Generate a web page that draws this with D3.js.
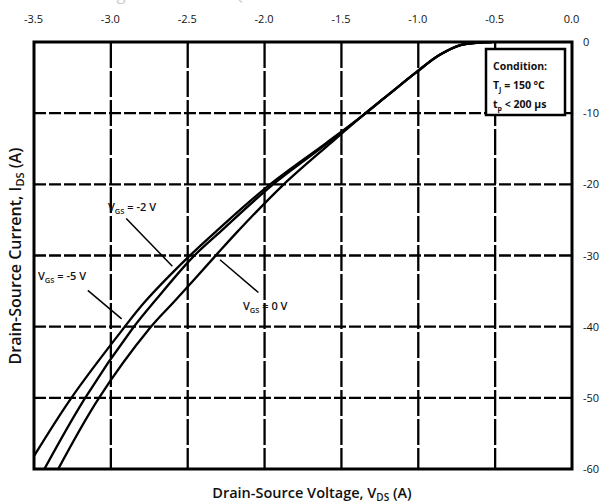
<!DOCTYPE html>
<html>
<head>
<meta charset="utf-8">
<script src="https://cdn.jsdelivr.net/npm/d3@7"></script>
<style>
  body { margin: 0; background: #fff; }
  svg { display: block; }
  text { font-family: "Open Sans", sans-serif; fill: #111; }
</style>
</head>
<body>
<div id="chart"></div>
<script>
// values
var xTicks = [-3.5, -3.0, -2.5, -2.0, -1.5, -1.0, -0.5, 0.0]
var yTicks = [0, -10, -20, -30, -40, -50, -60]

// drain current (A) shared by the three curves
var currents = [0, -0.4, -1.8, -4.2, -7.5, -10.3, -14.2, -20.1, -26.5, -30.3, -36.3, -40.3, -50.1, -60.3]
// drain-source voltage (V) for each gate voltage
var vdsVgs0  = [-0.52, -0.72, -0.86, -1.01, -1.20, -1.36, -1.57, -1.88, -2.17, -2.33, -2.58, -2.75, -3.08, -3.35]
var vdsVgsM2 = [-0.52, -0.72, -0.86, -1.01, -1.20, -1.36, -1.59, -1.95, -2.28, -2.47, -2.71, -2.86, -3.17, -3.44]
var vdsVgsM5 = [-0.52, -0.72, -0.86, -1.01, -1.20, -1.36, -1.60, -1.97, -2.31, -2.50, -2.77, -2.92, -3.26, -3.56]

var seriesNames = ['0', '-2', '-5']
var conditionLines = ['Condition:', 'T|J| = 150 °C', 't|p| < 200 µs']

var width = 606
var height = 504
var plotL = 34, plotR = 572, plotT = 42, plotB = 469

var svg = d3.select('#chart').append('svg').attr('width', width).attr('height', height)

var x = d3.scaleLinear().domain([-3.5, 0]).range([plotL, plotR])
var y = d3.scaleLinear().domain([0, -60]).range([plotT, plotB])

// faded title, cut off at the top of the picture
svg.append('text')
  .attr('x', 300).attr('y', 0)
  .attr('text-anchor', 'middle')
  .style('font-size', '17px')
  .style('fill', '#cfcfcf')
  .text('Figure 22. Third Quadrant Characteristic at 150 °C')

svg.append('defs').append('clipPath').attr('id', 'plot')
  .append('rect').attr('x', plotL).attr('y', plotT).attr('width', plotR - plotL).attr('height', plotB - plotT)

// grid
svg.append('g').selectAll('line')
  .data(xTicks.slice(1, -1))
  .enter().append('line')
  .attr('x1', d => x(d)).attr('x2', d => x(d))
  .attr('y1', plotT).attr('y2', plotB)
  .style('stroke', '#000').style('stroke-width', 2.3)
  .style('stroke-dasharray', '26,3')

svg.append('g').selectAll('line')
  .data(yTicks.slice(1, -1))
  .enter().append('line')
  .attr('x1', plotL).attr('x2', plotR)
  .attr('y1', d => y(d)).attr('y2', d => y(d))
  .style('stroke', '#000').style('stroke-width', 2.3)
  .style('stroke-dasharray', '12,3')

// curves
var line = d3.line()
  .x(d => x(d[0]))
  .y(d => y(d[1]))
  .curve(d3.curveCatmullRom.alpha(0.5))

var curves = [vdsVgs0, vdsVgsM2, vdsVgsM5].map(function(v) {
  return v.map(function(vd, i) { return [vd, currents[i]] })
})

svg.append('g').attr('clip-path', 'url(#plot)').selectAll('path')
  .data(curves)
  .enter().append('path')
  .attr('d', line)
  .style('fill', 'none')
  .style('stroke', '#000')
  .style('stroke-width', 2.3)

// frame
svg.append('rect')
  .attr('x', plotL).attr('y', plotT).attr('width', plotR - plotL).attr('height', plotB - plotT)
  .style('fill', 'none').style('stroke', '#000').style('stroke-width', 3)

// top axis labels
var xAxis = d3.axisTop(x).tickValues(xTicks).tickFormat(d => d.toFixed(1)).tickSize(0).tickPadding(0)
svg.append('g').attr('transform', 'translate(0,23)').call(xAxis)
  .call(g => g.select('.domain').remove())
  .selectAll('text').style('font-size', '11px').style('font-family', '"Open Sans", sans-serif').attr('dx', '-1')

// right axis labels
var yAxis = d3.axisRight(y).tickValues(yTicks).tickFormat(d => String(d)).tickSize(0).tickPadding(0)
svg.append('g').attr('transform', 'translate(583,0)').call(yAxis)
  .call(g => g.select('.domain').remove())
  .selectAll('text').style('font-size', '11px').style('font-family', '"Open Sans", sans-serif')

// axis titles
var xTitle = svg.append('text')
  .attr('x', 312).attr('y', 498)
  .attr('text-anchor', 'middle')
  .style('font-size', '14.5px').style('font-weight', 600)
xTitle.append('tspan').text('Drain-Source Voltage, V')
xTitle.append('tspan').attr('dy', 3).style('font-size', '10px').text('DS')
xTitle.append('tspan').attr('dy', -3).text(' (A)')

var yTitle = svg.append('text')
  .attr('transform', 'translate(21,256) rotate(-90)')
  .attr('text-anchor', 'middle')
  .style('font-size', '16px').style('font-weight', 600)
yTitle.append('tspan').text('Drain-Source Current, I')
yTitle.append('tspan').attr('dy', 3).style('font-size', '11px').text('DS')
yTitle.append('tspan').attr('dy', -3).text(' (A)')

// gate voltage annotations
var notes = [
  { name: seriesNames[2], tx: 38, ty: 280, from: [-3.15, -34.9], to: [-2.93, -38.9] },
  { name: seriesNames[1], tx: 108, ty: 211, from: [-2.90, -24.8], to: [-2.60, -31.5] },
  { name: seriesNames[0], tx: 243, ty: 310, from: [-2.04, -35.2], to: [-2.29, -30.6] }
]

notes.forEach(function(n) {
  var t = svg.append('text').attr('x', n.tx).attr('y', n.ty)
    .style('font-size', '11px').style('font-weight', 600)
  t.append('tspan').text('V')
  t.append('tspan').attr('dy', 2.5).style('font-size', '7.5px').text('GS')
  t.append('tspan').attr('dy', -2.5).text(' = ' + n.name + ' V')
  svg.append('line')
    .attr('x1', x(n.from[0])).attr('y1', y(n.from[1]))
    .attr('x2', x(n.to[0])).attr('y2', y(n.to[1]))
    .style('stroke', '#000').style('stroke-width', 1.5)
})

// condition box
svg.append('rect')
  .attr('x', 486).attr('y', 49).attr('width', 79).attr('height', 66)
  .style('fill', '#fff').style('stroke', '#000').style('stroke-width', 2.5)

conditionLines.forEach(function(s, i) {
  var parts = s.split('|')
  var t = svg.append('text').attr('x', 493).attr('y', 70 + i * 19)
    .style('font-size', '10.5px').style('font-weight', 700)
  t.append('tspan').text(parts[0])
  if (parts.length > 1) {
    t.append('tspan').attr('dy', 2.5).style('font-size', '7px').text(parts[1])
    t.append('tspan').attr('dy', -2.5).text(parts[2])
  }
})
</script>
</body>
</html>
